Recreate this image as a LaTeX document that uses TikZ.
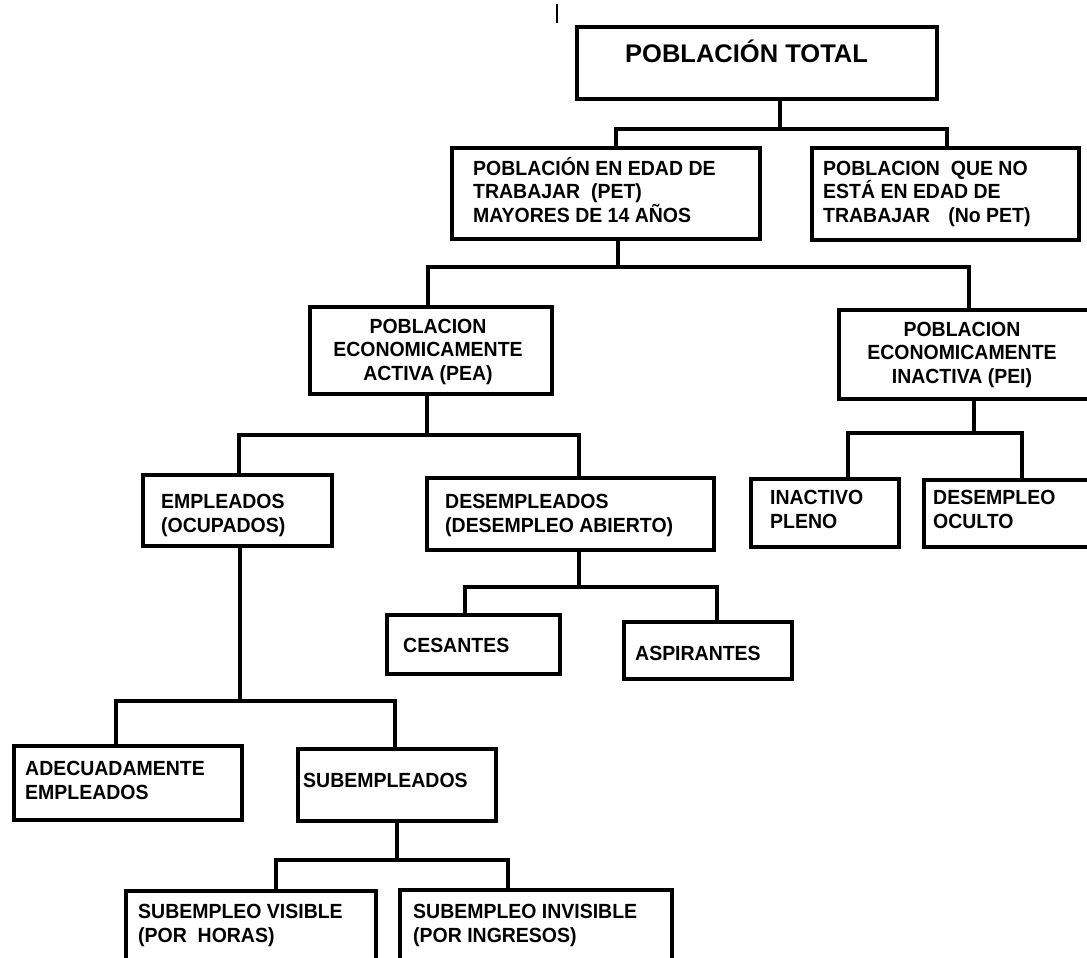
\documentclass[tikz,border=0pt]{standalone}
\usepackage{fontspec}
\newfontfamily\boxfont[FakeStretch=0.95]{Liberation Sans}
\newfontfamily\bigfont{Liberation Sans}
\usetikzlibrary{calc}
\begin{document}
\begin{tikzpicture}[x=1pt,y=-1pt,
  box/.style={draw=black, line width=4pt, inner sep=0pt},
  conn/.style={draw=black, line width=4pt, line join=miter},
  txt/.style={font=\boxfont\bfseries\fontsize{20.5}{23.5}\selectfont, inner sep=0pt, align=left, anchor=base west, text=black},
  ctxt/.style={txt, align=center, anchor=base},
  bigtxt/.style={font=\bigfont\bfseries\fontsize{25.5}{28}\selectfont, inner sep=0pt, anchor=base west, text=black}]
\useasboundingbox (0,0) rectangle (1087,958);
\fill[white] (0,0) rectangle (1087,958);
% stray mark
\draw[line width=2pt] (557,4) -- (557,23);
% boxes
\node[box, anchor=north west, minimum width=360pt, minimum height=72pt] (top) at (575,25) {};
\node[box, anchor=north west, minimum width=308pt, minimum height=91pt] (pet) at (450,146) {};
\node[box, anchor=north west, minimum width=267pt, minimum height=92pt] (nopet) at (810,146) {};
\node[box, anchor=north west, minimum width=242pt, minimum height=87pt] (pea) at (308,305) {};
\node[box, anchor=north west, minimum width=252pt, minimum height=89pt] (pei) at (837,308) {};
\node[box, anchor=north west, minimum width=189pt, minimum height=71pt] (emp) at (141,473) {};
\node[box, anchor=north west, minimum width=287pt, minimum height=72pt] (des) at (425,476) {};
\node[box, anchor=north west, minimum width=173pt, minimum height=59pt] (ces) at (385,613) {};
\node[box, anchor=north west, minimum width=168pt, minimum height=57pt] (asp) at (622,620) {};
\node[box, anchor=north west, minimum width=148pt, minimum height=68pt] (ina) at (749,477) {};
\node[box, anchor=north west, minimum width=166pt, minimum height=67pt] (ocu) at (922,478) {};
\node[box, anchor=north west, minimum width=228pt, minimum height=74pt] (ade) at (12,744) {};
\node[box, anchor=north west, minimum width=198pt, minimum height=72pt] (sub) at (296,747) {};
\node[box, anchor=north west, minimum width=250pt, minimum height=85pt] (vis) at (124,889) {};
\node[box, anchor=north west, minimum width=272pt, minimum height=85pt] (inv) at (398,888) {};
% texts (anchor = baseline of the last line)
\node[bigtxt] (topt) at (625,63) {POBLACIÓN TOTAL};
\node[txt] (pett) at (473,222) {POBLACIÓN EN EDAD DE\\TRABAJAR~~(PET)\\MAYORES DE 14 AÑOS};
\node[txt] (nopett) at (823,222) {POBLACION~~QUE NO\\ESTÁ EN EDAD DE\\TRABAJAR\hspace{18pt}(No PET)};
\node[ctxt] (peat) at (428,380) {POBLACION\\ECONOMICAMENTE\\ACTIVA (PEA)};
\node[ctxt] (peit) at (962,383) {POBLACION\\ECONOMICAMENTE\\INACTIVA (PEI)};
\node[txt] (empt) at (161,532) {EMPLEADOS\\(OCUPADOS)};
\node[txt] (dest) at (445,532) {DESEMPLEADOS\\(DESEMPLEO ABIERTO)};
\node[txt] (cest) at (403,652) {CESANTES};
\node[txt] (aspt) at (635,660) {ASPIRANTES};
\node[txt] (inat) at (770,528) {INACTIVO\\PLENO};
\node[txt] (ocut) at (933,528) {DESEMPLEO\\OCULTO};
\node[txt] (adet) at (25,799) {ADECUADAMENTE\\EMPLEADOS};
\node[txt] (subt) at (303,787) {SUBEMPLEADOS};
\node[txt] (vist) at (138,942) {SUBEMPLEO VISIBLE\\(POR~~HORAS)};
\node[txt] (invt) at (413,942) {SUBEMPLEO INVISIBLE\\(POR INGRESOS)};
% connector levels
\coordinate (y1) at (0,129);
\coordinate (y2) at (0,267);
\coordinate (y3) at (0,435);
\coordinate (y4) at (0,587);
\coordinate (y5) at (0,433);
\coordinate (y6) at (0,701);
\coordinate (y7) at (0,860);
% connectors
\draw[conn] ($(top.south west)!.564!(top.south east)$) coordinate (p1) -- (p1 |- y1) coordinate (k1);
\draw[conn] ($(pet.north west)!.532!(pet.north east)$) |- (k1) -| ($(nopet.north west)!.506!(nopet.north east)$);
\draw[conn] ($(pet.south west)!.539!(pet.south east)$) coordinate (p2) -- (p2 |- y2) coordinate (k2);
\draw[conn] ($(pea.north west)!.488!(pea.north east)$) |- (k2) -| ($(pei.north west)!.516!(pei.north east)$);
\draw[conn] ($(pea.south west)!.483!(pea.south east)$) coordinate (p3) -- (p3 |- y3) coordinate (k3);
\draw[conn] ($(emp.north west)!.508!(emp.north east)$) |- (k3) -| ($(des.north west)!.53!(des.north east)$);
\draw[conn] ($(des.south west)!.53!(des.south east)$) coordinate (p4) -- (p4 |- y4) coordinate (k4);
\draw[conn] ($(ces.north west)!.45!(ces.north east)$) |- (k4) -| ($(asp.north west)!.55!(asp.north east)$);
\draw[conn] ($(pei.south west)!.536!(pei.south east)$) coordinate (p5) -- (p5 |- y5) coordinate (k5);
\draw[conn] ($(ina.north west)!.65!(ina.north east)$) |- (k5) -| ($(ocu.north west)!.59!(ocu.north east)$);
\draw[conn] ($(emp.south west)!.514!(emp.south east)$) coordinate (p6) -- (p6 |- y6) coordinate (k6);
\draw[conn] ($(ade.north west)!.45!(ade.north east)$) |- (k6) -| ($(sub.north west)!.49!(sub.north east)$);
\draw[conn] ($(sub.south west)!.5!(sub.south east)$) coordinate (p7) -- (p7 |- y7) coordinate (k7);
\draw[conn] ($(vis.north west)!.6!(vis.north east)$) |- (k7) -| ($(inv.north west)!.4!(inv.north east)$);
\end{tikzpicture}
\end{document}
